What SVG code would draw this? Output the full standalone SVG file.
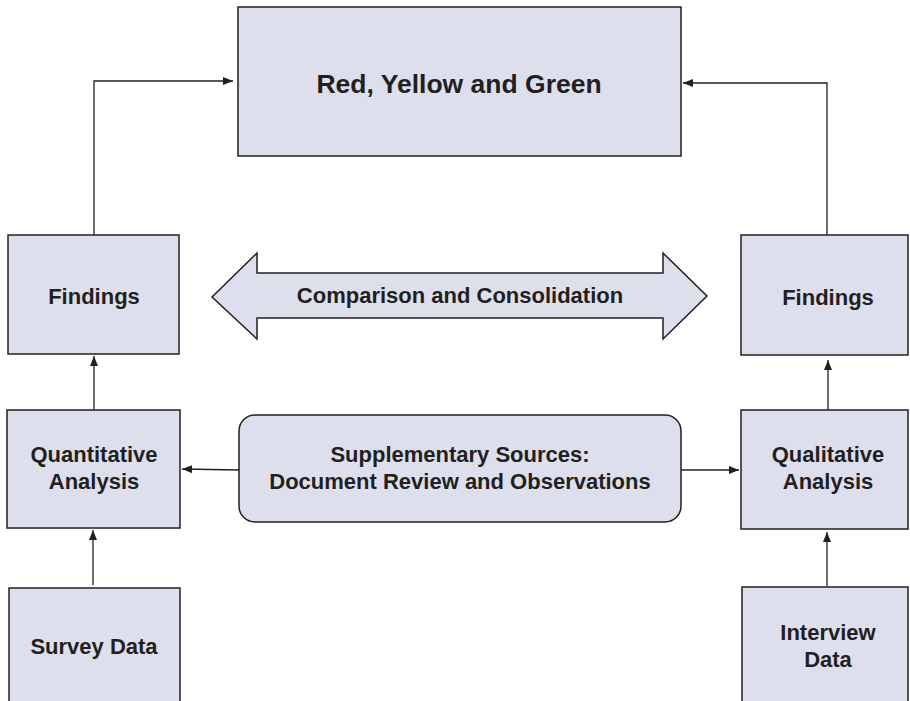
<svg xmlns="http://www.w3.org/2000/svg" width="910" height="701" viewBox="0 0 910 701">
<style>
.box{fill:#dddfec;stroke:#231f20;stroke-width:1.5}
.t{font-family:"Liberation Sans",Arial,sans-serif;font-weight:bold;font-size:22px;fill:#231f20;text-anchor:middle}
.c{fill:none;stroke:#231f20;stroke-width:1.3}
</style>
<defs>
<marker id="ah" viewBox="0 0 10 8" refX="10" refY="4" markerWidth="10" markerHeight="8" markerUnits="userSpaceOnUse" orient="auto">
<path d="M0,0 L10,4 L0,8 z" fill="#231f20"/>
</marker>
</defs>
<g id="top"><rect class="box" x="238" y="7" width="443" height="149"/><text class="t" x="459" y="93" style="font-size:26.5px">Red, Yellow and Green</text></g>
<g id="findL"><rect class="box" x="8" y="235" width="171" height="119"/><text class="t" x="94" y="304">Findings</text></g>
<g id="quant"><rect class="box" x="7" y="410" width="173" height="118"/><text class="t" x="94" y="462">Quantitative</text><text class="t" x="94" y="489">Analysis</text></g>
<g id="survey"><rect class="box" x="9" y="588" width="171" height="130"/><text class="t" x="94" y="654">Survey Data</text></g>
<g id="findR"><rect class="box" x="741" y="235" width="167" height="120"/><text class="t" x="828" y="305">Findings</text></g>
<g id="qual"><rect class="box" x="741" y="410" width="167" height="119"/><text class="t" x="828" y="462">Qualitative</text><text class="t" x="828" y="489">Analysis</text></g>
<g id="interview"><rect class="box" x="742" y="587" width="166" height="130"/><text class="t" x="828" y="640">Interview</text><text class="t" x="828" y="667">Data</text></g>
<g id="compare"><path class="box" d="M212,297 L257,253 L257,273 L663,273 L663,253 L707,296 L663,339 L663,318 L257,318 L257,339 Z"/><text class="t" x="460" y="303">Comparison and Consolidation</text></g>
<g id="supp"><rect class="box" x="239" y="415" width="442" height="107" rx="16"/><text class="t" x="460" y="462">Supplementary Sources:</text><text class="t" x="460" y="489">Document Review and Observations</text></g>
<g id="connectors">
<path class="c" d="M94,235 L94,81 L233,81" marker-end="url(#ah)"/>
<path class="c" d="M827,235 L827,83 L683,83" marker-end="url(#ah)"/>
<path class="c" d="M94,410 L94,356" marker-end="url(#ah)"/>
<path class="c" d="M93,585 L93,530" marker-end="url(#ah)"/>
<path class="c" d="M828,410 L828,360" marker-end="url(#ah)"/>
<path class="c" d="M827,586 L827,532" marker-end="url(#ah)"/>
<path class="c" d="M239,470 L182,469" marker-end="url(#ah)"/>
<path class="c" d="M681,470 L739,470" marker-end="url(#ah)"/>
</g>
</svg>
